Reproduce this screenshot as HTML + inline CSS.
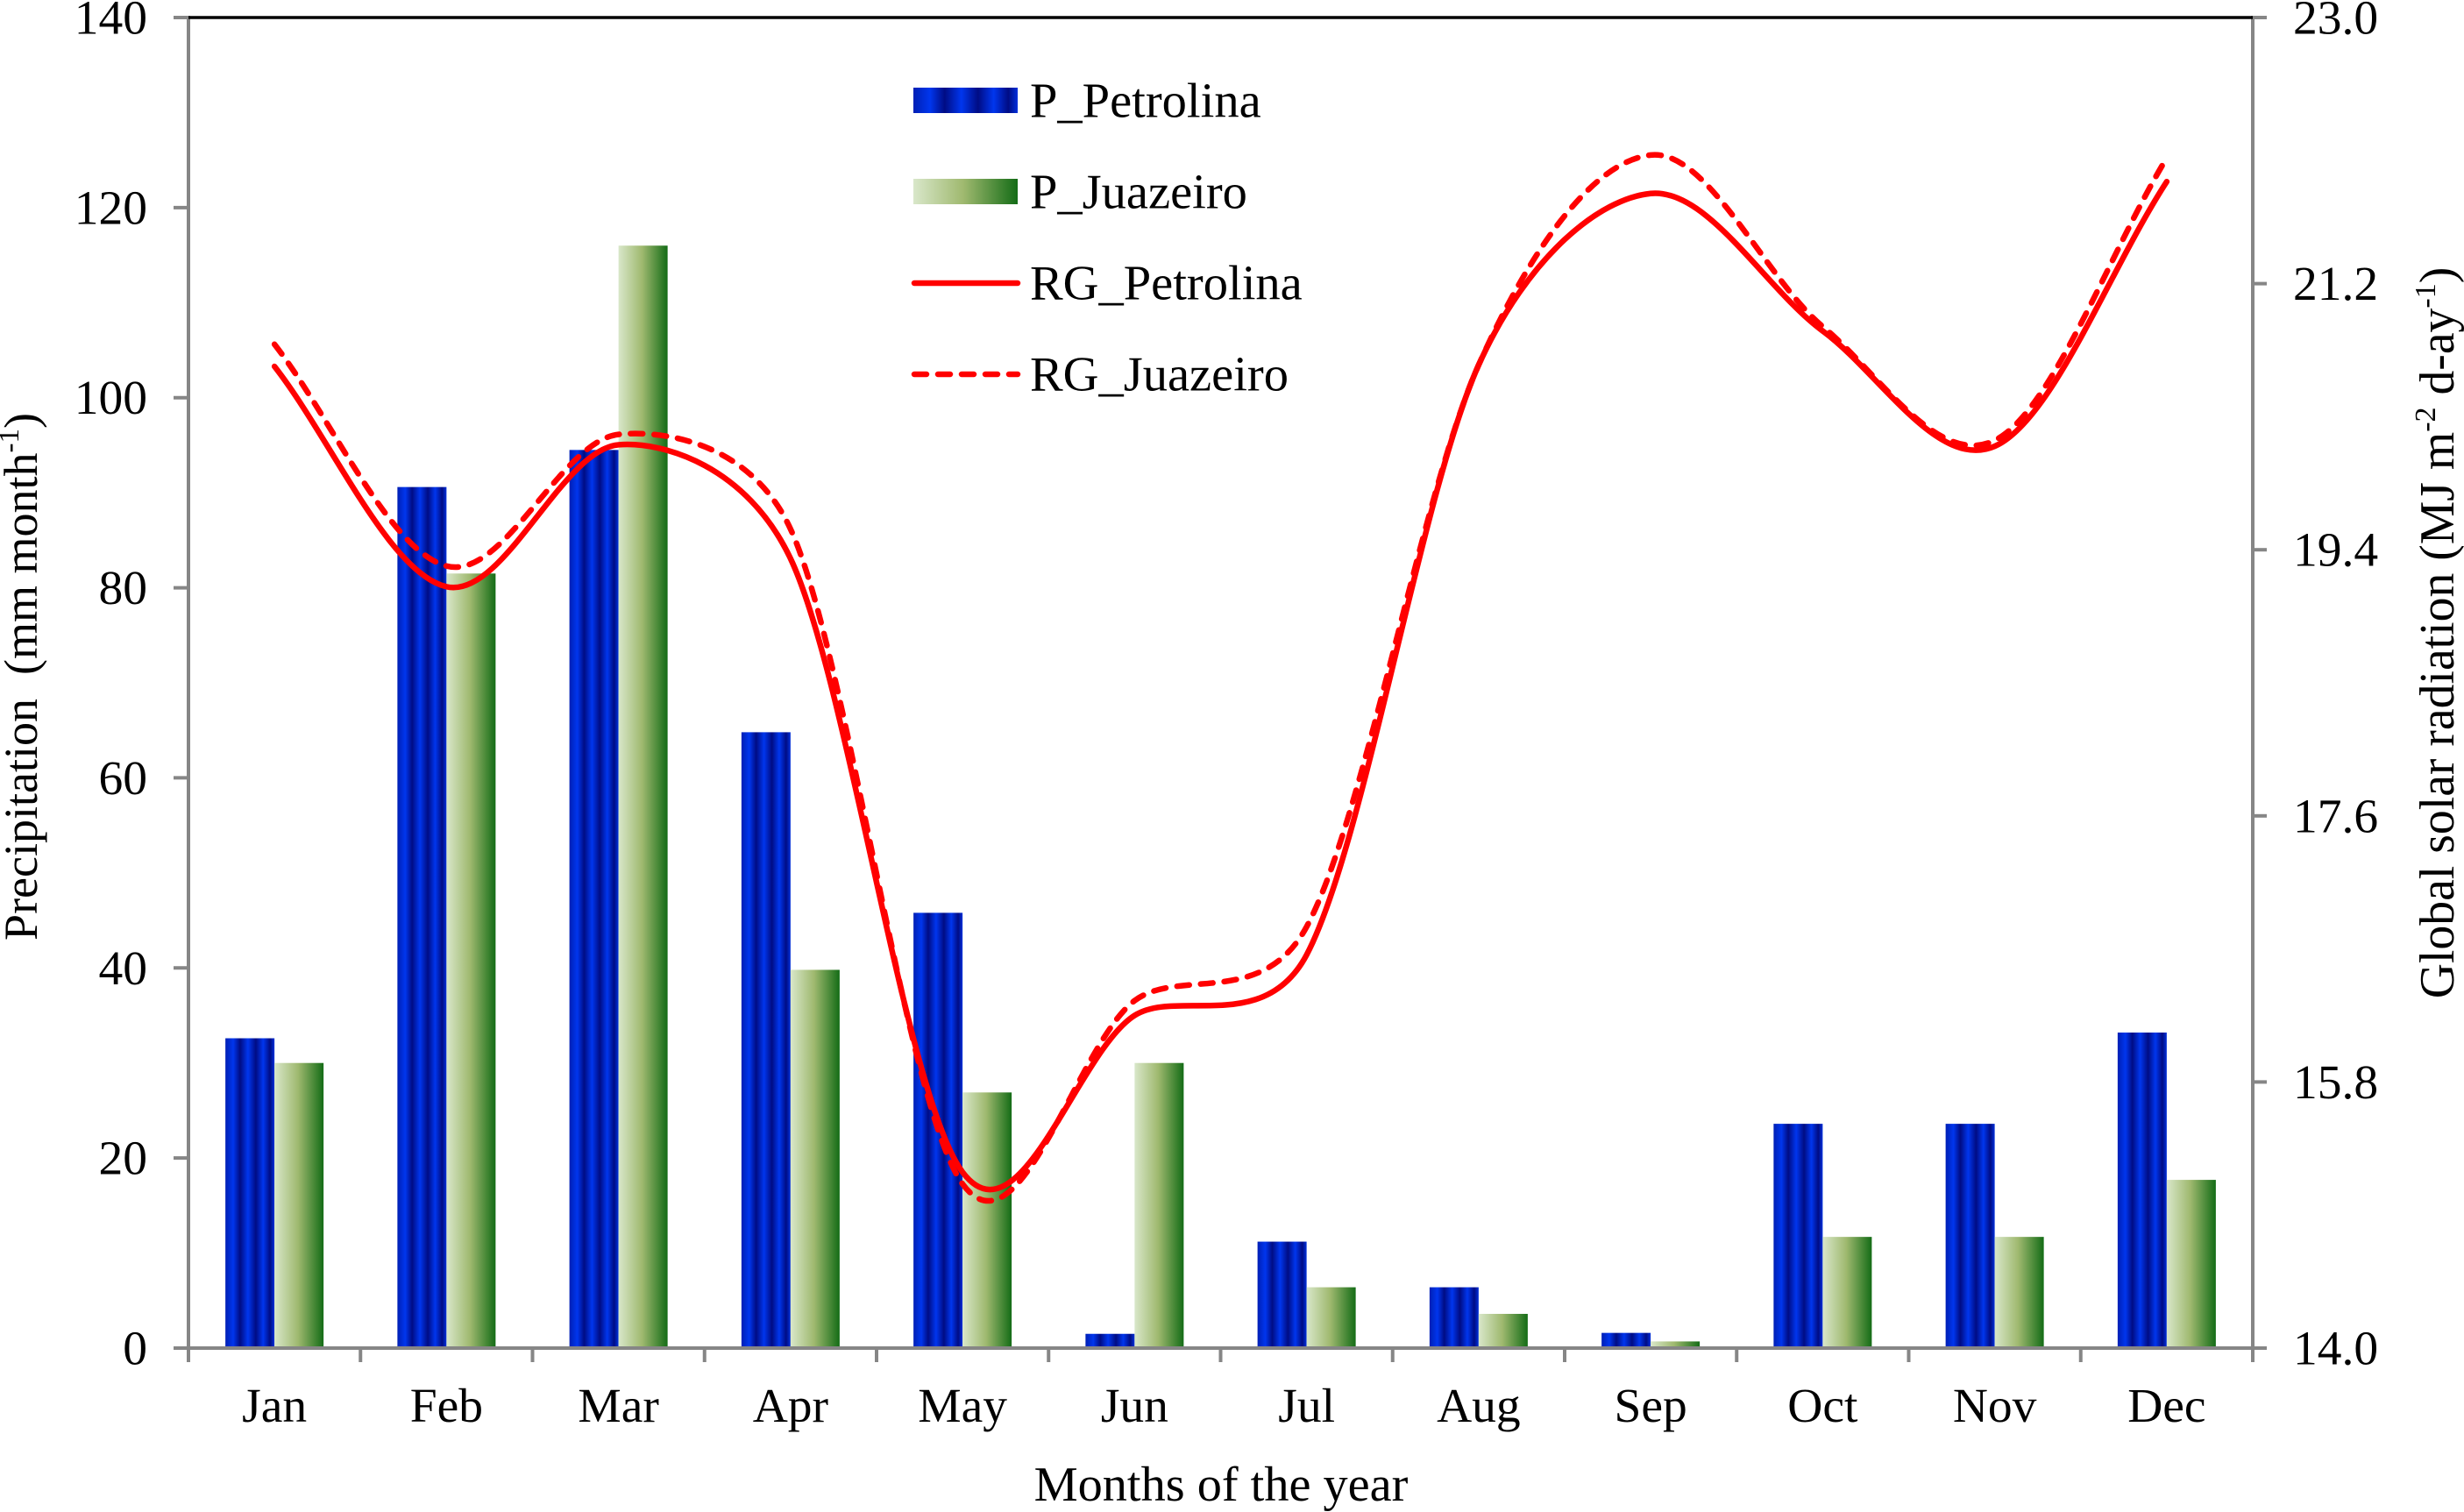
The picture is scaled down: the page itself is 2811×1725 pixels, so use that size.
<!DOCTYPE html>
<html lang="en">
<head>
<meta charset="utf-8">
<title>Precipitation and global solar radiation</title>
<style>
html,body{margin:0;padding:0;background:#fff;}
svg{display:block;}
text{font-family:"Liberation Serif","Times New Roman",serif;fill:#000;white-space:pre;}
</style>
</head>
<body>
<svg id="chart" xmlns="http://www.w3.org/2000/svg" width="2811" height="1725" viewBox="0 0 2811 1725">
  <defs>
    <linearGradient id="blueGrad" x1="0" x2="1" y1="0" y2="0">
      <stop offset="0" stop-color="#001fb4"/>
      <stop offset="0.16" stop-color="#0036ee"/>
      <stop offset="0.30" stop-color="#000c84"/>
      <stop offset="0.46" stop-color="#0036ee"/>
      <stop offset="0.62" stop-color="#000c84"/>
      <stop offset="0.77" stop-color="#0036ee"/>
      <stop offset="0.91" stop-color="#000c84"/>
      <stop offset="1" stop-color="#0030dc"/>
    </linearGradient>
    <linearGradient id="greenGrad" x1="0" x2="1" y1="0" y2="0">
      <stop offset="0" stop-color="#d9e7ca"/>
      <stop offset="0.48" stop-color="#9fb96f"/>
      <stop offset="1" stop-color="#146c16"/>
    </linearGradient>
  </defs>
  <rect x="0" y="0" width="2811" height="1725" fill="#fff"/>
  <g id="bars"></g>
  <g id="axes"></g>
  <g id="lines"></g>
  <g id="labels" font-size="55.5"></g>

  <text x="1393" y="1712" font-size="56.3" text-anchor="middle">Months of the year</text>
  <text transform="translate(42,772) rotate(-90)" font-size="54" text-anchor="middle">Precipitation  (mm month<tspan font-size="33" dy="-21">-1</tspan><tspan dy="21">)</tspan></text>
  <text transform="translate(2799,722) rotate(-90)" font-size="55.7" text-anchor="middle">Global solar radiation (MJ m<tspan font-size="34" dy="-21">-2</tspan><tspan dy="21"> d-ay</tspan><tspan font-size="34" dy="-21">-1</tspan><tspan dy="21">)</tspan></text>

  <g>
    <g>
      <rect x="1042" y="100" width="119" height="29" fill="url(#blueGrad)"/>
      <text x="1175" y="133.5" font-size="56.5">P_Petrolina</text>
    </g>
    <g>
      <rect x="1042" y="204" width="119" height="29" fill="url(#greenGrad)"/>
      <text x="1175" y="237.5" font-size="56.5">P_Juazeiro</text>
    </g>
    <g>
      <line x1="1043" x2="1161" y1="323" y2="323" stroke="#ff0000" stroke-width="6.5" stroke-linecap="round"/>
      <text x="1175" y="341.5" font-size="56.5">RG_Petrolina</text>
    </g>
    <g>
      <line x1="1043" x2="1161" y1="427" y2="427" stroke="#ff0000" stroke-width="6.5" stroke-linecap="round" stroke-dasharray="14 13"/>
      <text x="1175" y="445.5" font-size="56.5">RG_Juazeiro</text>
    </g>
  </g>
</svg>
<script>
const months = ['Jan','Feb','Mar','Apr','May','Jun','Jul','Aug','Sep','Oct','Nov','Dec'];
const pPetrolina = [32.6,90.6,94.5,64.8,45.8,1.5,11.2,6.4,1.6,23.6,23.6,33.2];
const pJuazeiro = [30,81.5,116,39.8,26.9,30,6.4,3.6,0.7,11.7,11.7,17.7];
const rgPetrolina = [20.64,19.15,20.11,19.34,15.19,16.25,16.66,20.65,21.81,20.88,20.10,21.89];
const rgJuazeiro = [20.79,19.29,20.18,19.54,15.11,16.35,16.85,20.65,22.07,20.91,20.14,22.05];
const leftTicks = ['0','20','40','60','80','100','120','140'];
const rightTicks = ['14.0','15.8','17.6','19.4','21.2','23.0'];

const NS = 'http://www.w3.org/2000/svg';
const plotLeft = 215, plotRight = 2570, plotTop = 20, plotBottom = 1538;
const catW = (plotRight - plotLeft) / months.length;
const barW = 56;

function xCenter(i){ return plotLeft + (i + 0.5) * catW; }
function yLeft(v){ return plotBottom - (v / 140) * (plotBottom - plotTop); }
function yRight(v){ return plotBottom - ((v - 14) / 9) * (plotBottom - plotTop); }

function mk(tag, attrs, parent){
  const el = document.createElementNS(NS, tag);
  for (const k in attrs) el.setAttribute(k, attrs[k]);
  parent.appendChild(el);
  return el;
}

const barsG = document.getElementById('bars');
const axesG = document.getElementById('axes');
const linesG = document.getElementById('lines');
const labelsG = document.getElementById('labels');

months.forEach(function(m, i){
  const h1 = plotBottom - yLeft(pPetrolina[i]);
  const b1 = mk('rect', {x: xCenter(i) - barW, y: yLeft(pPetrolina[i]), width: barW, height: h1, fill: 'url(#blueGrad)'}, barsG);
  
  
  const h2 = plotBottom - yLeft(pJuazeiro[i]);
  const b2 = mk('rect', {x: xCenter(i), y: yLeft(pJuazeiro[i]), width: barW, height: h2, fill: 'url(#greenGrad)'}, barsG);
  
  
  const t = mk('text', {x: xCenter(i), y: 1622, 'text-anchor': 'middle'}, labelsG);
  t.textContent = m;
  
  
});

const GRAY = '#868686';
const leftAxis = mk('line', {x1: plotLeft, x2: plotLeft, y1: plotTop - 2, y2: plotBottom + 16, stroke: GRAY, 'stroke-width': 4}, axesG);


const rightAxis = mk('line', {x1: plotRight, x2: plotRight, y1: plotTop - 2, y2: plotBottom + 16, stroke: GRAY, 'stroke-width': 4}, axesG);


const topBorder = mk('line', {x1: plotLeft, x2: plotRight, y1: plotTop, y2: plotTop, stroke: '#000', 'stroke-width': 3.5}, axesG);


const xAxis = mk('line', {x1: plotLeft - 17, x2: plotRight + 16, y1: plotBottom, y2: plotBottom, stroke: GRAY, 'stroke-width': 4}, axesG);



for (let i = 1; i < months.length; i++){
  const x = plotLeft + i * catW;
  const tick = mk('line', {x1: x, x2: x, y1: plotBottom, y2: plotBottom + 16, stroke: GRAY, 'stroke-width': 4}, axesG);
  
  
}

leftTicks.forEach(function(label){
  const y = yLeft(Number(label));
  const tick = mk('line', {x1: plotLeft - 17, x2: plotLeft, y1: y, y2: y, stroke: GRAY, 'stroke-width': 4}, axesG);
  
  
  const t = mk('text', {x: 168, y: y + 18.5, 'text-anchor': 'end'}, labelsG);
  t.textContent = label;
  
  
});

rightTicks.forEach(function(label){
  const y = yRight(Number(label));
  const tick = mk('line', {x1: plotRight, x2: plotRight + 16, y1: y, y2: y, stroke: GRAY, 'stroke-width': 4}, axesG);
  
  
  const t = mk('text', {x: 2616, y: y + 18.5}, labelsG);
  t.textContent = label;
  
  
});

function dist(a, b){ return Math.hypot(a[0] - b[0], a[1] - b[1]); }

// Spreadsheet-style smoothing: control points limited by segment length.
function smoothPath(values){
  const p = values.map(function(v, i){ return [xCenter(i), yRight(v)]; });
  const n = p.length;
  let d = 'M' + p[0][0] + ' ' + p[0][1];
  for (let i = 0; i < n - 1; i++){
    const p0 = i > 0 ? p[i - 1] : p[i];
    const p1 = p[i];
    const p2 = p[i + 1];
    const p3 = i < n - 2 ? p[i + 2] : p[i + 1];
    const d02 = dist(p0, p2), d12 = dist(p1, p2), d13 = dist(p1, p3);
    let f1, f2;
    const a = d02 / 6 < d12 / 2, b = d13 / 6 < d12 / 2;
    if (a && b){
      f1 = i !== 0 ? 1 / 6 : 1 / 3;
      f2 = i !== n - 2 ? 1 / 6 : 1 / 3;
    } else if (!a && !b){
      f1 = d12 / 2 / d02;
      f2 = d12 / 2 / d13;
    } else if (!a){
      f1 = d12 / 2 / d02;
      f2 = d12 / 2 / d02;
    } else {
      f1 = d12 / 2 / d13;
      f2 = d12 / 2 / d13;
    }
    d += ' C' + (p1[0] + (p2[0] - p0[0]) * f1) + ' ' + (p1[1] + (p2[1] - p0[1]) * f1) + ' ' +
         (p2[0] + (p1[0] - p3[0]) * f2) + ' ' + (p2[1] + (p1[1] - p3[1]) * f2) + ' ' +
         p2[0] + ' ' + p2[1];
  }
  return d;
}

const dashLine = mk('path', {d: smoothPath(rgJuazeiro), fill: 'none', stroke: '#ff0000', 'stroke-width': 6.5, 'stroke-linecap': 'round', 'stroke-dasharray': '14 13'}, linesG);


const solidLine = mk('path', {d: smoothPath(rgPetrolina), fill: 'none', stroke: '#ff0000', 'stroke-width': 6.5, 'stroke-linecap': 'round'}, linesG);


</script>
</body>
</html>
